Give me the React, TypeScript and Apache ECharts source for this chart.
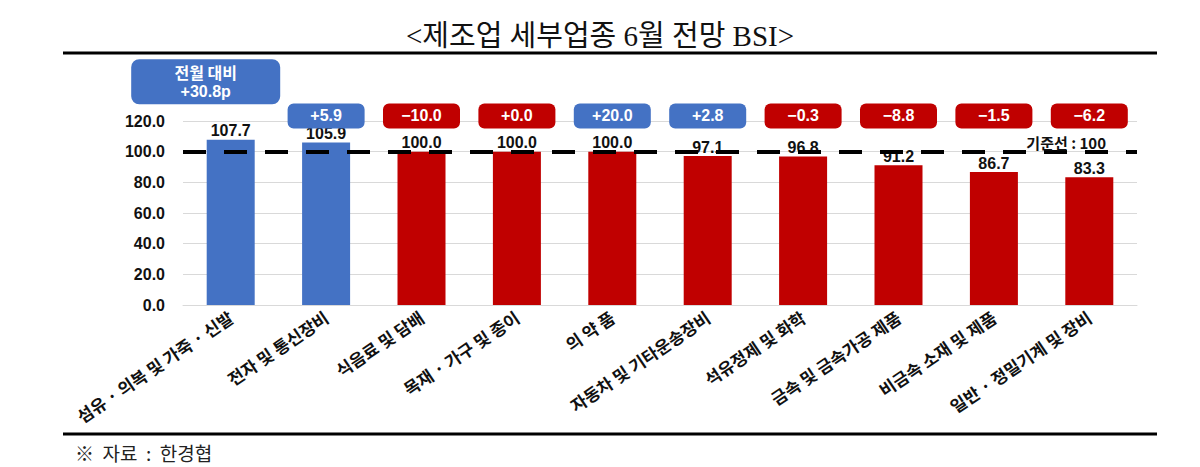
import React, { useEffect, useRef } from 'react';
import * as echarts from 'echarts';

// 업종 (x축)
const categories = [
  '섬유 · 의복 및 가죽 · 신발',
  '전자 및 통신장비',
  '식음료 및 담배',
  '목재 · 가구 및 종이',
  '의 약 품',
  '자동차 및 기타운송장비',
  '석유정제 및 화학',
  '금속 및 금속가공 제품',
  '비금속 소재 및 제품',
  '일반 · 정밀기계 및 장비',
];

// 6월 전망 BSI
const bsiValues = [107.7, 105.9, 100.0, 100.0, 100.0, 97.1, 96.8, 91.2, 86.7, 83.3];

// 전월 대비 증감
const monthChange = [30.8, 5.9, -10.0, 0.0, 20.0, 2.8, -0.3, -8.8, -1.5, -6.2];

const yTicks = [0, 20, 40, 60, 80, 100, 120];
const baseline = 100;

const BLUE = '#4472C4';
const RED = '#C00000';
const KR = '"Noto Sans CJK KR", "Liberation Sans", sans-serif';
const NUM = '"Liberation Sans", Arial, sans-serif';

const changeText = (v: number) => (v < 0 ? '−' : '+') + Math.abs(v).toFixed(1);

const App: React.FC = () => {
  const chartRef = useRef<HTMLDivElement>(null);

  useEffect(() => {
    if (!chartRef.current) return;
    const chart = echarts.init(chartRef.current, undefined, { renderer: 'svg' });

    const textStyle = (text: string, x: number, y: number, font: string) => ({
      type: 'text',
      style: {
        text,
        x,
        y,
        align: 'center',
        verticalAlign: 'middle',
        fill: '#fff',
        fontFamily: font,
        fontSize: 16,
        fontWeight: 'bold',
      },
    });

    const option = {
      animation: false,
      backgroundColor: '#fff',
      textStyle: { fontFamily: KR },
      title: {
        text: '<제조업 세부업종 6월 전망 BSI>',
        left: 'center',
        top: 21,
        padding: 0,
        textStyle: {
          fontFamily: '"Liberation Serif", "Noto Sans CJK KR", serif',
          fontSize: 29,
          fontWeight: 'normal',
          color: '#111',
        },
      },
      grid: { left: 183, right: 63, top: 121, bottom: 162 },
      xAxis: {
        type: 'category',
        data: categories,
        axisLine: { show: true, lineStyle: { color: '#d9d9d9' } },
        axisTick: { show: false },
        axisLabel: {
          interval: 0,
          rotate: 34,
          margin: 10,
          fontFamily: KR,
          fontSize: 17,
          fontWeight: 'bold',
          color: '#111',
        },
      },
      yAxis: {
        type: 'value',
        min: yTicks[0],
        max: yTicks[yTicks.length - 1],
        interval: 20,
        axisLine: { show: false },
        axisTick: { show: false },
        splitLine: { lineStyle: { color: '#d9d9d9', width: 1 } },
        axisLabel: {
          margin: 18,
          fontFamily: NUM,
          fontSize: 16,
          fontWeight: 'bold',
          color: '#111',
          formatter: (v: number) => v.toFixed(1),
        },
      },
      series: [
        {
          type: 'bar',
          barWidth: 48,
          data: bsiValues.map((v) => ({
            value: v,
            itemStyle: { color: v > baseline ? BLUE : RED },
          })),
          label: {
            show: true,
            position: 'top',
            distance: 1,
            fontFamily: NUM,
            fontSize: 16,
            fontWeight: 'bold',
            color: '#111',
            formatter: (p: any) => Number(p.value).toFixed(1),
          },
          markLine: {
            silent: true,
            symbol: 'none',
            lineStyle: { color: '#000', width: 4, type: [23, 18] },
            label: {
              show: true,
              position: 'insideEndTop',
              formatter: '기준선 : 100',
              distance: 2,
              padding: [0, 29, 0, 0],
              fontFamily: KR,
              fontSize: 15,
              fontWeight: 'bold',
              color: '#111',
            },
            data: [{ yAxis: baseline }],
          },
        },
        {
          // 전월 대비 증감 라벨 (둥근 상자)
          type: 'custom',
          clip: false,
          z: 5,
          data: monthChange.map((v, i) => [i, v]),
          encode: { x: 0, y: 1 },
          renderItem: (params: any, api: any) => {
            const idx = api.value(0) as number;
            const v = api.value(1) as number;
            const first = idx === 0;
            const pt = api.coord([idx, first ? 145.6 : 123.3]);
            const w = first ? 149 : 77;
            const h = first ? 45 : 25;
            const cx = pt[0] + (first ? -25 : 0);
            const cy = pt[1];
            const box = {
              type: 'rect',
              shape: { x: cx - w / 2, y: cy - h / 2, width: w, height: h, r: first ? 8 : 6 },
              style: { fill: v > 0 ? BLUE : RED },
            };
            const children = first
              ? [
                  box,
                  textStyle('전월 대비', cx, cy - 10, KR),
                  textStyle(changeText(v) + 'p', cx, cy + 10, NUM),
                ]
              : [box, textStyle(changeText(v), cx, cy, NUM)];
            return { type: 'group', children };
          },
        },
      ],
      graphic: [
        {
          type: 'line',
          shape: { x1: 63, y1: 53, x2: 1157, y2: 53 },
          style: { stroke: '#000', lineWidth: 3 },
        },
        {
          type: 'line',
          shape: { x1: 63, y1: 434, x2: 1157, y2: 434 },
          style: { stroke: '#000', lineWidth: 3 },
        },
        {
          type: 'text',
          x: 75,
          y: 452,
          style: {
            text: '※  자료  :  한경협',
            fontFamily: KR,
            fontSize: 19,
            fill: '#222',
            verticalAlign: 'middle',
          },
        },
      ],
    };

    chart.setOption(option);

    const handleResize = () => chart.resize();
    window.addEventListener('resize', handleResize);

    return () => {
      window.removeEventListener('resize', handleResize);
      chart.dispose();
    };
  }, []);

  return (
    <div
      ref={chartRef}
      style={{ position: 'absolute', left: 0, top: 0, width: '1200px', height: '467px' }}
    />
  );
};

export default App;
